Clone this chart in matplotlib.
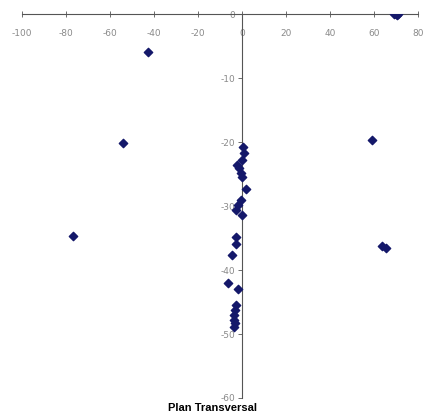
import matplotlib
matplotlib.use("Agg")
import matplotlib.pyplot as plt

# Transverse-plane positions (x, y)
x_vals = [-43, -54, -77, 59, 63.6, 65.5, 69, 70, 71, 70.5,
          0.5, 1, 0, -2.3, -1.4, -0.5, 0, 1.8, -0.5, -1.8, -3, 0,
          -2.7, -2.7, -4.5, -6.4, -1.8, -2.7, -3.2, -3.6, -3.6, -3.4, -3.8]
y_vals = [-5.9, -20.2, -34.7, -19.7, -36.2, -36.6, 0, 0, 0, -0.2,
          -20.8, -21.7, -22.8, -23.6, -24, -24.8, -25.5, -27.3, -29, -29.8, -30.6, -31.4,
          -34.8, -36, -37.6, -42, -43, -45.5, -46.3, -47.1, -47.8, -48.3, -48.9]
x_ticks = [-100, -80, -60, -40, -20, 0, 20, 40, 60, 80]
y_ticks = [0, -10, -20, -30, -40, -50, -60]
title = "Plan Transversal"

fig = plt.figure(figsize=(4.25, 4.15), dpi=100)
ax = fig.add_axes([0.052, 0.041, 0.932, 0.925])
ax.scatter(x_vals, y_vals, marker="D", s=18, color="#14186a", zorder=3)

ax.set_xlim(-100, 80)
ax.set_ylim(-60, 0)
ax.set_xticks(x_ticks)
ax.set_yticks(y_ticks)
ax.set_xticklabels([str(v) for v in x_ticks])
ax.set_yticklabels([str(v) for v in y_ticks])

for side in ("top", "right"):
    ax.spines[side].set_visible(False)
ax.spines["bottom"].set_position(("data", 0))
ax.spines["left"].set_position(("data", 0))
for side in ("bottom", "left"):
    ax.spines[side].set_color("#555555")
    ax.spines[side].set_linewidth(0.8)

ax.tick_params(axis="x", direction="inout", length=5, width=0.6, colors="#555555",
               labelcolor="#8a8a8a", labelsize=6.5, pad=8)
ax.tick_params(axis="y", direction="out", length=3, width=0.6, colors="#555555",
               labelcolor="#8a8a8a", labelsize=6.5, pad=2)
ax.patch.set_visible(False)

fig.text(0.5, 0.005, title, ha="center", va="bottom", fontsize=8, fontweight="bold",
         family="Liberation Sans")

fig.savefig("out.png", dpi=100)
